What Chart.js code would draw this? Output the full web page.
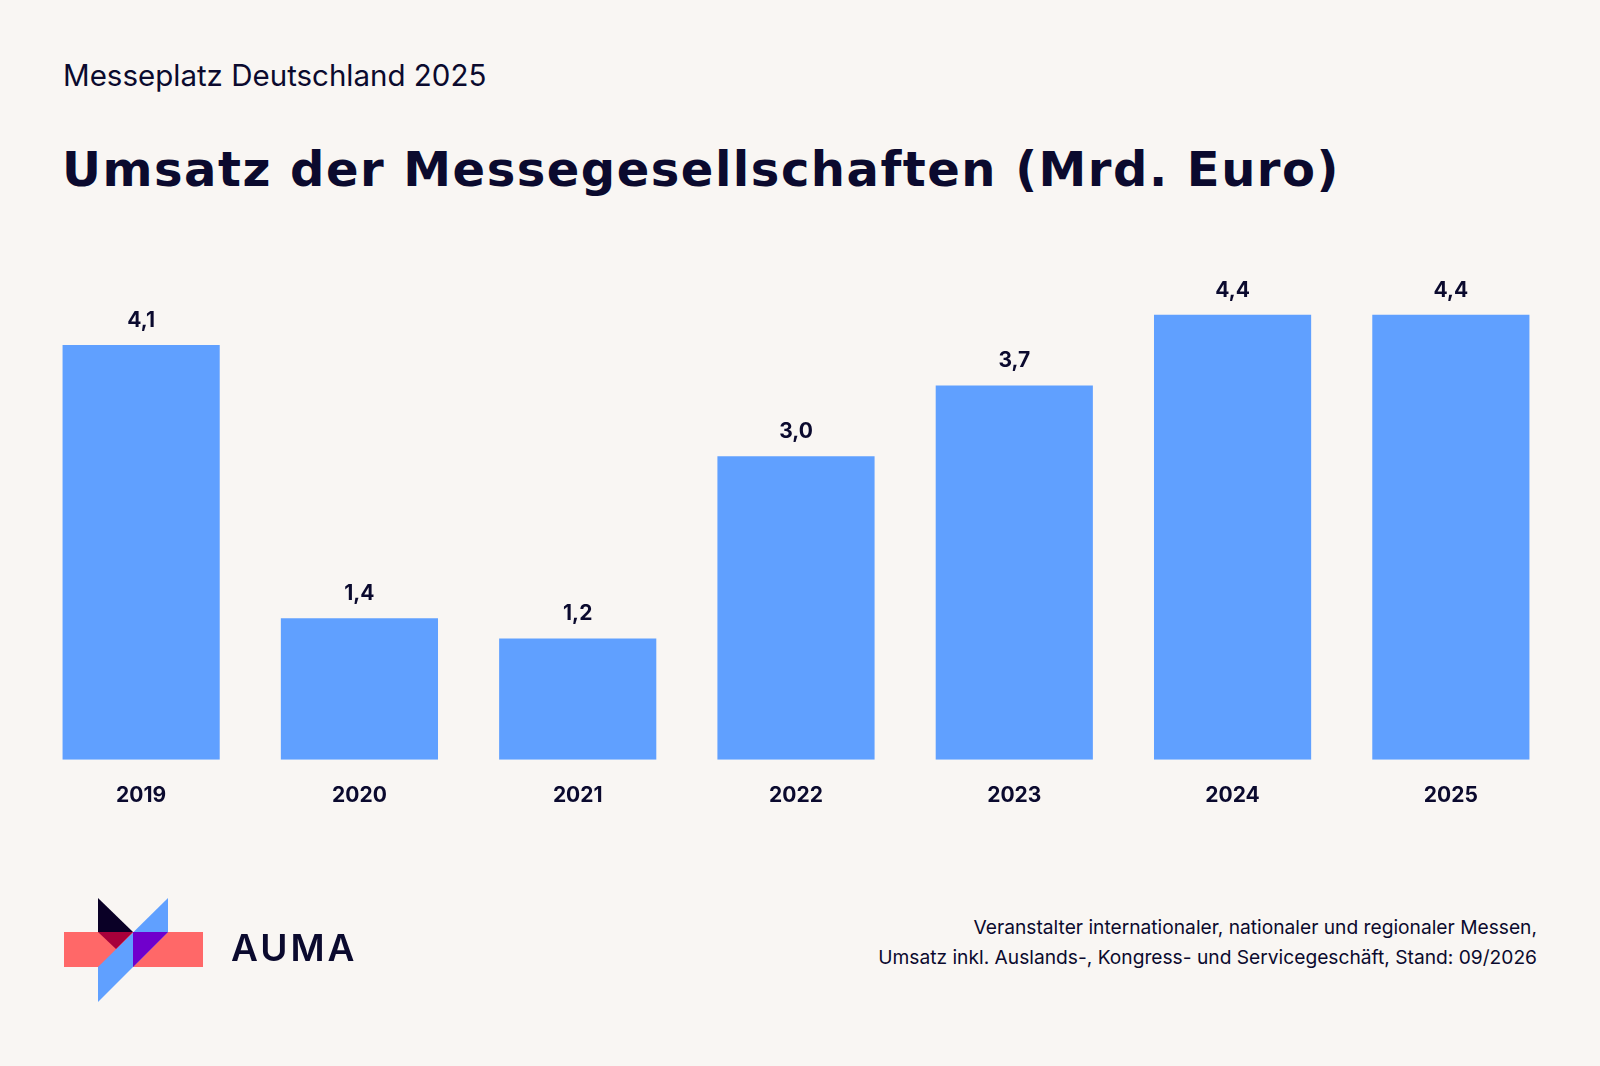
<!DOCTYPE html>
<html><head><meta charset="utf-8">
<script src="https://cdn.jsdelivr.net/npm/chart.js@4"></script>
<style>
html,body{margin:0;padding:0;background:#F9F6F3;width:1600px;height:1066px;overflow:hidden;font-family:Inter,"Noto Sans",sans-serif;color:#0B0A2E}
#sub{position:absolute;left:63px;top:57px;font-size:29.5px;}
#title{position:absolute;left:62px;top:141px;font-size:48px;font-weight:bold;letter-spacing:1.5px;font-family:"DejaVu Sans",sans-serif}
#wrap{position:absolute;left:0;top:246px;width:1600px;height:580px}
#logo{position:absolute;left:0;top:0}
#auma{position:absolute;left:231px;top:925px;font-size:37px;font-weight:600;letter-spacing:3px}
#note{position:absolute;right:63px;top:912px;text-align:right;font-size:19.2px;line-height:30px}
</style></head><body>
<div id="sub">Messeplatz Deutschland 2025</div>
<div id="title">Umsatz der Messegesellschaften (Mrd. Euro)</div>
<div id="wrap"><canvas id="c" width="1600" height="580"></canvas></div>
<canvas id="logo" width="400" height="1066"></canvas>
<div id="auma">AUMA</div>
<div id="note">Veranstalter internationaler, nationaler und regionaler Messen,<br>Umsatz inkl. Auslands-, Kongress- und Servicegeschäft, Stand: 09/2026</div>
<script>
const categories=["2019","2020","2021","2022","2023","2024","2025"];
const values=[4.1,1.4,1.2,3.0,3.7,4.4,4.4];
const valueLabels=["4,1","1,4","1,2","3,0","3,7","4,4","4,4"];

const labelPlugin={id:'lbl',afterDatasetsDraw(ch){const ctx=ch.ctx;const m=ch.getDatasetMeta(0);
ctx.save();ctx.font='bold 21px Inter, "Noto Sans", sans-serif';ctx.fillStyle='#0B0A2E';ctx.textAlign='center';ctx.textBaseline='bottom';
m.data.forEach((b,i)=>ctx.fillText(valueLabels[i],b.x,b.y-14));ctx.restore();}};
new Chart(document.getElementById('c'),{type:'bar',
data:{labels:categories,datasets:[{data:values,backgroundColor:'#60A0FF',barPercentage:0.72,categoryPercentage:1}]},
options:{responsive:false,animation:false,layout:{padding:{left:32,right:40,top:8,bottom:3}},
plugins:{legend:{display:false},tooltip:{enabled:false}},
scales:{y:{display:false,min:0,max:5},
x:{grid:{display:false},border:{display:false},ticks:{color:'#0B0A2E',padding:15,font:{size:21,weight:'bold',family:'Inter'}}}}},
plugins:[labelPlugin]});

const g=document.getElementById('logo').getContext('2d');
g.fillStyle='#FF6868';g.fillRect(64,932,139,35);
g.fillStyle='#0A0026';g.beginPath();g.moveTo(98,898);g.lineTo(133,932);g.lineTo(98,932);g.fill();
g.fillStyle='#60A0FF';g.beginPath();g.moveTo(168,898);g.lineTo(168,932);g.lineTo(98,1002);g.lineTo(98,967);g.fill();
g.fillStyle='#A8003A';g.beginPath();g.moveTo(98,932);g.lineTo(133,932);g.lineTo(116,949);g.fill();
g.fillStyle='#7000CC';g.beginPath();g.moveTo(133,932);g.lineTo(168,932);g.lineTo(133,967);g.fill();
</script></body></html>
